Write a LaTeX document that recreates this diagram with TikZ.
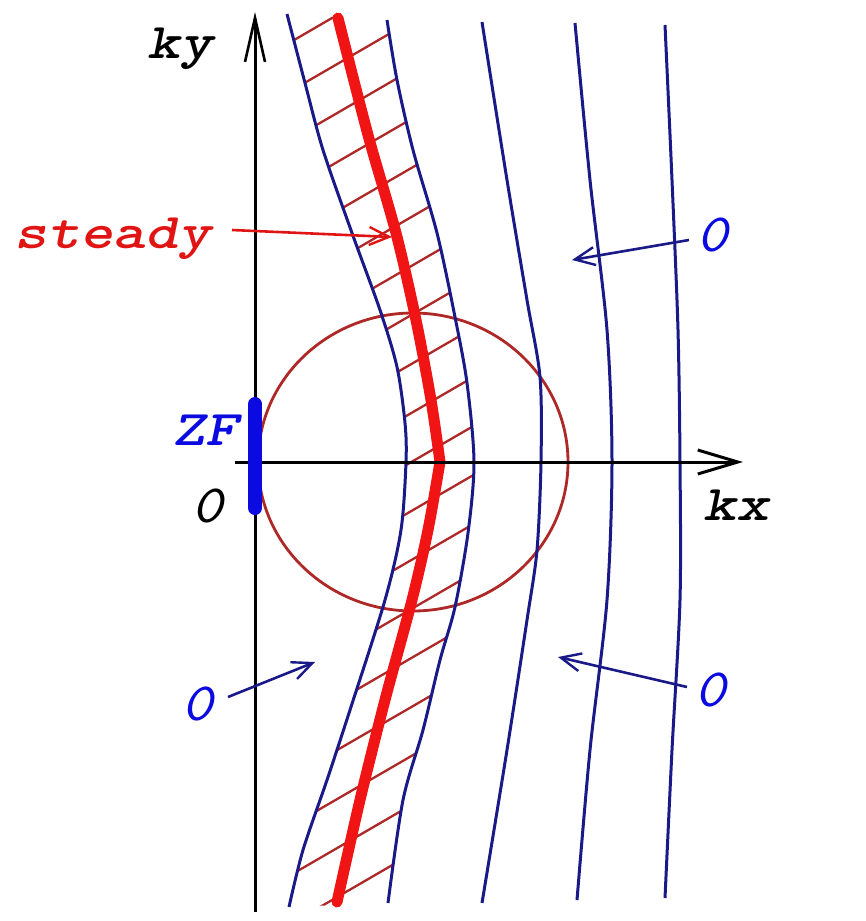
\documentclass[tikz,border=0pt]{standalone}
\usepackage{fontspec}
\usetikzlibrary{arrows.meta}
\definecolor{navy}{RGB}{25,25,135}
\definecolor{lblue}{RGB}{10,10,225}
\definecolor{hatchred}{RGB}{175,40,40}
\definecolor{thickred}{RGB}{240,20,20}
\definecolor{lred}{RGB}{225,20,20}
\newcommand{\wide}[1]{\scalebox{1.25}[1]{#1}}
\newcommand{\wideo}[1]{\scalebox{1.1}[1]{#1}}
\tikzset{
  bandline/.style={navy, line width=3pt},
  lbl/.style={inner sep=0pt, font=\ttfamily\bfseries\itshape\fontsize{50}{50}\selectfont},
  zlbl/.style={inner sep=0pt, font=\ttfamily\itshape\fontsize{54}{54}\selectfont},
  ptr/.style={line width=2.6pt, -{Straight Barb[length=20pt,width=18pt,line width=2.4pt]}},
}
\begin{document}
\begin{tikzpicture}[x=1pt,y=-1pt]
\useasboundingbox (0,0) rectangle (866,921);
\def\leftline{(287,14) (305,83) (323,150) (352,233) (380,310) (397,367) (405,423) (406,462) (401,530) (385,600) (350,710) (327,780) (303,850) (289,907)}
\def\rightline{(387,20) (397,80) (413,150) (437,233) (455,317) (467,383) (474,462) (468,533) (455,607) (440,660) (423,730) (403,800) (388,903)}
% hatching inside band
\begin{scope}
\clip plot[smooth] coordinates {\leftline}
 -- plot[smooth] coordinates {(388,903) (403,800) (423,730) (440,660) (455,607) (468,533) (474,462) (467,383) (455,317) (437,233) (413,150) (397,80) (387,20)} -- cycle;
\foreach \k in {-12,...,10} {
  \draw[hatchred, line width=2.3pt] (250,{555.6+49*\k}) -- (520,{555.6+49*\k-0.58*270});
}
\end{scope}
% circle
\draw[hatchred, line width=2.8pt] (413,462) ellipse [x radius=155, y radius=149];
% band and other lines
\draw[bandline] plot[smooth] coordinates {\leftline};
\draw[bandline] plot[smooth] coordinates {\rightline};
\draw[bandline] plot[smooth] coordinates {(482,22) (507,180) (527,300) (540,377) (541,462) (537,550) (527,620) (507,750) (482,903)};
\draw[bandline] plot[smooth] coordinates {(575,23) (590,180) (607,330) (612,462) (607,600) (590,750) (577,900)};
\draw[bandline] plot[smooth] coordinates {(665,25) (672,180) (678,330) (680,462) (680,600) (672,750) (665,898)};
% steady line
\draw[thickred, line width=11pt, line cap=round, line join=round]
  plot[smooth] coordinates {(338,18) (368,135) (396,233) (416,320) (431,400) (440,462)}
  -- plot[smooth] coordinates {(440,462) (428,530) (412,600) (385,700) (360,800) (337,902)};
% axes
\coordinate (yb) at (255,912);
\coordinate (yt) at (255,12);
\coordinate (xl) at (235,462);
\coordinate (xr) at (743,462);
\draw[black, line width=3pt, -{Straight Barb[length=44pt,width=20pt,line width=2.6pt]}] (yb) -- (yt);
\draw[black, line width=3pt, -{Straight Barb[length=40pt,width=24pt,line width=3pt]}] (xl) -- (xr);
% ZF bar
\coordinate (zf1) at (255,404);
\coordinate (zf2) at (255,508);
\draw[lblue, line width=14pt, line cap=round] (zf1) -- (zf2);
% labels
\node[lbl, anchor=base] (ky) at (180,58) {\wide{ky}};
\node[lbl, anchor=base] (kx) at (736,520) {\wide{kx}};
\node[lbl, anchor=base, lred] (steady) at (113,248) {\wide{steady}};
\node[lbl, anchor=base, lblue] (zf) at (205,445) {\wide{ZF}};
\node[zlbl] (o0) at (207,506) {\wideo{0}};
\node[zlbl, lblue] (oa) at (712,235) {\wideo{0}};
\node[zlbl, lblue] (ob) at (197,704) {\wideo{0}};
\node[zlbl, lblue] (oc) at (710,690) {\wideo{0}};
% pointers
\coordinate (sa) at (232,230);
\coordinate (st) at (392,237);
\draw[ptr, lred] (sa) -- (st);
\coordinate (aa) at (689,240);
\coordinate (at1) at (572,260);
\draw[ptr, navy] (aa) -- (at1);
\coordinate (ba) at (228,697);
\coordinate (bt) at (315,662);
\draw[ptr, navy] (ba) -- (bt);
\coordinate (ca) at (687,687);
\coordinate (ct) at (558,657);
\draw[ptr, navy] (ca) -- (ct);
\end{tikzpicture}
\end{document}
